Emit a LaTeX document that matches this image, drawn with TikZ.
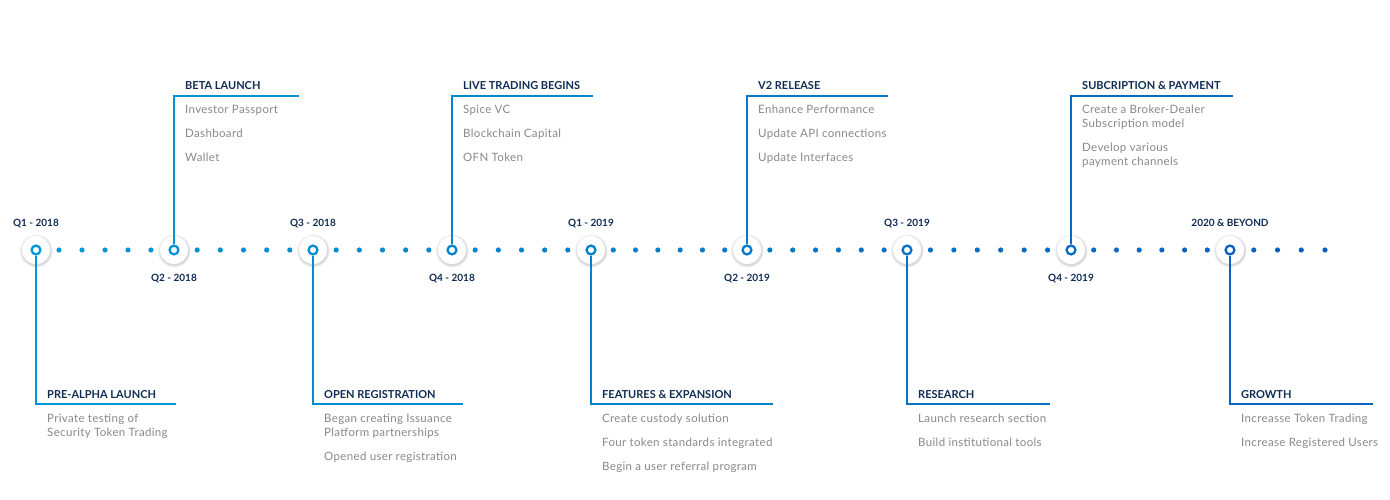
\documentclass[tikz,border=0pt]{standalone}
\usepackage{fontspec}
\setmainfont{Lato}
\usetikzlibrary{shadows}

% timeline palette: light blue on the left, deeper blue on the right
\definecolor{tlL}{RGB}{0,153,216}
\definecolor{tlR}{RGB}{10,94,190}
\definecolor{navy}{RGB}{16,44,82}
\definecolor{itemgray}{RGB}{136,136,136}

\colorlet{c1}{tlR!0!tlL}
\colorlet{c2}{tlR!11!tlL}
\colorlet{c3}{tlR!21!tlL}
\colorlet{c4}{tlR!32!tlL}
\colorlet{c5}{tlR!43!tlL}
\colorlet{c6}{tlR!55!tlL}
\colorlet{c7}{tlR!68!tlL}
\colorlet{c8}{tlR!80!tlL}
\colorlet{c9}{tlR!93!tlL}

\begin{document}
\begin{tikzpicture}[x=1pt,y=-1pt,
  halo/.style={circle, fill=white, minimum size=28pt, inner sep=0pt,
    circular drop shadow={shadow xshift=0pt, shadow yshift=-0.5pt,
      shadow scale=1.2, opacity=0.3}},
  ring/.style={circle, draw=#1, fill=white, line width=2.3pt,
    minimum size=8.8pt, inner sep=0pt},
  tdot/.style={circle, fill=#1, minimum size=5.2pt, inner sep=0pt},
  conn/.style={draw=#1, line width=2.4pt, line join=miter},
  qlabel/.style={anchor=base, inner sep=0pt, text=navy,
    font=\bfseries\fontsize{10}{12}\selectfont},
  ttl/.style={anchor=base west, inner sep=0pt, text=navy,
    font=\bfseries\fontsize{11}{13}\selectfont},
  itm/.style={anchor=base west, inner sep=0pt, text=itemgray, align=left,
    font=\fontsize{11.5}{14}\selectfont\addfontfeature{LetterSpace=3}},
]
\useasboundingbox (0,0) rectangle (1390,500);

% dotted track between the milestones
\foreach \a/\b/\n in {36/174/5, 174/313/5, 313/452/5, 452/591/5,
                      591/747/6, 747/907/6, 907/1071/6, 1071/1230/6} {
  \foreach \i in {1,...,\n} {
    \pgfmathsetmacro\xx{\a+\i*(\b-\a)/(\n+1)}
    \pgfmathtruncatemacro\pc{(\xx-36)/1289*100}
    \node[tdot={tlR!\pc!tlL}] (d-\a-\i) at (\xx,250) {};
  }
}
\foreach \i in {1,...,4} {
  \pgfmathsetmacro\xx{1230+\i*23.75}
  \pgfmathtruncatemacro\pc{(\xx-36)/1289*100}
  \node[tdot={tlR!\pc!tlL}] (d-tail-\i) at (\xx,250) {};
}

% multi-line item nodes are placed by the baseline of their last line

% ---------- Q1 2018 : pre-alpha launch ----------
\node[halo] (h1) at (36,250) {};
\node[ring=c1] (m1) at (36,250) {};
\node[qlabel] (q1) at (36,226) {Q1 - 2018};
\coordinate (k1) at (36,404);
\coordinate (e1) at (176,404);
\draw[conn=c1] (m1) -- (k1) -- (e1);
\node[ttl] (t1) at (47,398) {PRE-ALPHA LAUNCH};
\node[itm] (i1a) at (47,436) {Private testing of\\Security Token Trading};

% ---------- Q2 2018 : beta launch ----------
\node[halo] (h2) at (174,250) {};
\node[ring=c2] (m2) at (174,250) {};
\node[qlabel] (q2) at (174,281) {Q2 - 2018};
\coordinate (k2) at (174,96);
\coordinate (e2) at (299,96);
\draw[conn=c2] (m2) -- (k2) -- (e2);
\node[ttl] (t2) at (185,90) {BETA LAUNCH};
\node[itm] (i2a) at (185,114) {Investor Passport};
\node[itm] (i2b) at (185,138) {Dashboard};
\node[itm] (i2c) at (185,162) {Wallet};

% ---------- Q3 2018 : open registration ----------
\node[halo] (h3) at (313,250) {};
\node[ring=c3] (m3) at (313,250) {};
\node[qlabel] (q3) at (313,226) {Q3 - 2018};
\coordinate (k3) at (313,404);
\coordinate (e3) at (463,404);
\draw[conn=c3] (m3) -- (k3) -- (e3);
\node[ttl] (t3) at (324,398) {OPEN REGISTRATION};
\node[itm] (i3a) at (324,436) {Began creating Issuance\\Platform partnerships};
\node[itm] (i3b) at (324,460) {Opened user registration};

% ---------- Q4 2018 : live trading ----------
\node[halo] (h4) at (452,250) {};
\node[ring=c4] (m4) at (452,250) {};
\node[qlabel] (q4) at (452,281) {Q4 - 2018};
\coordinate (k4) at (452,96);
\coordinate (e4) at (593,96);
\draw[conn=c4] (m4) -- (k4) -- (e4);
\node[ttl] (t4) at (463,90) {LIVE TRADING BEGINS};
\node[itm] (i4a) at (463,114) {Spice VC};
\node[itm] (i4b) at (463,138) {Blockchain Capital};
\node[itm] (i4c) at (463,162) {OFN Token};

% ---------- Q1 2019 : features & expansion ----------
\node[halo] (h5) at (591,250) {};
\node[ring=c5] (m5) at (591,250) {};
\node[qlabel] (q5) at (591,226) {Q1 - 2019};
\coordinate (k5) at (591,404);
\coordinate (e5) at (773,404);
\draw[conn=c5] (m5) -- (k5) -- (e5);
\node[ttl] (t5) at (602,398) {FEATURES \& EXPANSION};
\node[itm] (i5a) at (602,422) {Create custody solution};
\node[itm] (i5b) at (602,446) {Four token standards integrated};
\node[itm] (i5c) at (602,470) {Begin a user referral program};

% ---------- Q2 2019 : v2 release ----------
\node[halo] (h6) at (747,250) {};
\node[ring=c6] (m6) at (747,250) {};
\node[qlabel] (q6) at (747,281) {Q2 - 2019};
\coordinate (k6) at (747,96);
\coordinate (e6) at (888,96);
\draw[conn=c6] (m6) -- (k6) -- (e6);
\node[ttl] (t6) at (758,90) {V2 RELEASE};
\node[itm] (i6a) at (758,114) {Enhance Performance};
\node[itm] (i6b) at (758,138) {Update API connections};
\node[itm] (i6c) at (758,162) {Update Interfaces};

% ---------- Q3 2019 : research ----------
\node[halo] (h7) at (907,250) {};
\node[ring=c7] (m7) at (907,250) {};
\node[qlabel] (q7) at (907,226) {Q3 - 2019};
\coordinate (k7) at (907,404);
\coordinate (e7) at (1050,404);
\draw[conn=c7] (m7) -- (k7) -- (e7);
\node[ttl] (t7) at (918,398) {RESEARCH};
\node[itm] (i7a) at (918,422) {Launch research section};
\node[itm] (i7b) at (918,446) {Build institutional tools};

% ---------- Q4 2019 : subscription & payment ----------
\node[halo] (h8) at (1071,250) {};
\node[ring=c8] (m8) at (1071,250) {};
\node[qlabel] (q8) at (1071,281) {Q4 - 2019};
\coordinate (k8) at (1071,96);
\coordinate (e8) at (1233,96);
\draw[conn=c8] (m8) -- (k8) -- (e8);
\node[ttl] (t8) at (1082,90) {SUBCRIPTION \& PAYMENT};
\node[itm] (i8a) at (1082,128) {Create a Broker-Dealer\\Subscription model};
\node[itm] (i8b) at (1082,166) {Develop various\\payment channels};

% ---------- 2020 and beyond : growth ----------
\node[halo] (h9) at (1230,250) {};
\node[ring=c9] (m9) at (1230,250) {};
\node[qlabel] (q9) at (1230,226) {2020 \& BEYOND};
\coordinate (k9) at (1230,404);
\coordinate (e9) at (1373,404);
\draw[conn=c9] (m9) -- (k9) -- (e9);
\node[ttl] (t9) at (1241,398) {GROWTH};
\node[itm] (i9a) at (1241,422) {Increasse Token Trading};
\node[itm] (i9b) at (1241,446) {Increase Registered Users};
\end{tikzpicture}
\end{document}
